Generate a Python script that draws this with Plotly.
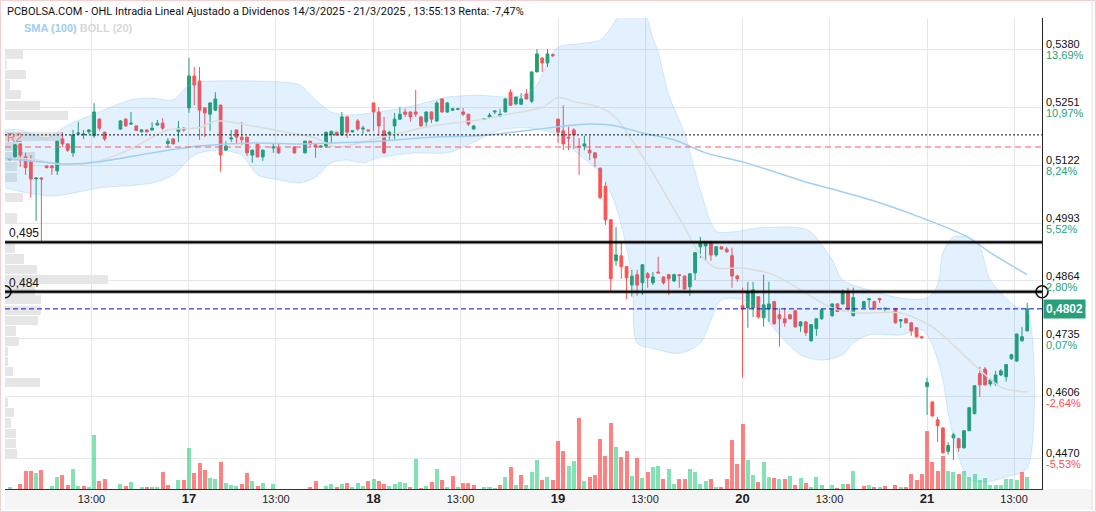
import plotly.graph_objects as go

# ---------------------------------------------------------------- data
TITLE = ("PCBOLSA.COM - OHL Intradia Lineal Ajustado a Dividenos 14/3/2025 - 21/3/2025 , "
         "13:55:13 Renta: -7,47%")
SLOTS_PER_DAY = 35                      # 15-minute bars 09:00 ... 17:30
day_names = ["14", "17", "18", "19", "20", "21"]
noon_text = "13:00"

# bar index k = day * 35 + slot ; None = no trade in that slot
opens = [
    # 14/3
    None, .5134, .5140, .5169, .5140, .5129, .5091, .5093, .5120, .5120,
    .5109, .5180, .5169, .5149, .5191, .5189, .5196, .5187, .5224, .5195,
    None, None, .5202, .5224, .5213, .5209, .5196, .5200, .5200, .5211,
    .5215, .5170, .5180, .5196, .5204,
    # 17/3
    .5249, .5320, .5309, .5249, .5235, .5244, .5255, .5155, .5180, .5200,
    .5184, .5184, .5144, .5169, .5140, None, .5160, .5160, None, None,
    .5162, None, .5149, .5175, .5167, .5162, .5164, .5190, .5195, .5189,
    .5229, .5196, .5220, .5202, .5200,
    # 18/3
    .5260, .5240, .5198, .5191, .5209, .5224, .5240, .5240, .5240, .5229,
    .5218, .5240, .5220, .5269, .5240, .5244, .5246, .5240, .5235, .5202,
    None, .5224, .5229, .5240, .5231, .5240, .5284, .5258, .5257, .5280,
    .5264, .5329, .5360, .5349, .5368,
    # 19/3
    .5224, .5198, .5184, .5200, .5164, .5164, .5155, .5149, .5115, .5075,
    .5000, .4909, .4920, .4896, .4855, .4878, .4860, .4880, .4860, .4884,
    .4873, .4878, .4864, .4878, .4875, .4851, .4882, .4940, .4942, .4951,
    .4922, .4940, .4935, .4920, .4875,
    # 20/3
    .4809, .4804, .4804, .4829, .4782, .4802, .4818, .4789, .4780, .4789,
    .4798, .4764, .4773, .4731, .4758, .4780, None, .4787, .4813, .4813,
    .4838, .4787, None, .4805, .4822, .4818, .4825, .4802, None, .4802,
    .4775, .4780, .4771, .4760, .4740,
    # 21/3
    .4629, .4595, .4555, .4537, .4485, .4515, .4513, .4493, .4531, .4569,
    .4658, .4668, .4635, .4635, .4655, .4651, .4691, .4686, .4731, .4753,
]
highs = [
    None, .5138, .5169, .5171, .5149, .5144, .5095, .5095, .5121, .5121,
    .5175, .5195, .5170, .5200, .5218, .5200, .5202, .5260, .5226, .5196,
    None, None, .5222, .5226, .5240, .5210, .5202, .5201, .5217, .5222,
    .5226, .5182, .5181, .5220, .5206,
    .5360, .5340, .5340, .5251, .5262, .5284, .5257, .5175, .5200, .5201,
    .5218, .5185, .5156, .5170, .5156, None, .5169, .5169, None, None,
    .5164, None, .5176, .5176, .5168, .5165, .5196, .5198, .5196, .5240,
    .5230, .5200, .5224, .5209, .5201,
    .5261, .5251, .5229, .5198, .5238, .5251, .5247, .5241, .5289, .5231,
    .5241, .5241, .5264, .5271, .5262, .5249, .5249, .5249, .5236, .5211,
    None, .5226, .5238, .5243, .5247, .5270, .5291, .5274, .5282, .5291,
    .5330, .5380, .5361, .5380, .5370,
    .5225, .5255, .5207, .5204, .5182, .5187, .5187, .5150, .5116, .5084,
    .5001, .4984, .4949, .4897, .4889, .4889, .4901, .4884, .4884, .4918,
    .4874, .4880, .4880, .4879, .4876, .4881, .4928, .4962, .4952, .4952,
    .4941, .4941, .4940, .4938, .4878,
    .4849, .4862, .4862, .4830, .4878, .4862, .4820, .4804, .4804, .4791,
    .4800, .4775, .4775, .4768, .4781, .4801, None, .4814, .4815, .4845,
    .4849, .4849, None, .4820, .4825, .4820, .4827, .4806, None, .4803,
    .4779, .4781, .4773, .4761, .4742,
    .4649, .4596, .4562, .4538, .4505, .4526, .4515, .4532, .4584, .4632,
    .4673, .4673, .4647, .4664, .4668, .4679, .4702, .4747, .4762, .4815,
]
lows = [
    None, .5132, .5138, .5118, .5100, .5049, .4998, .4953, .5115, .5100,
    .5100, .5162, .5151, .5140, .5189, .5180, .5191, .5182, .5198, .5175,
    None, None, .5200, .5207, .5211, .5198, .5194, .5194, .5198, .5209,
    .5200, .5160, .5168, .5173, .5196,
    .5238, .5255, .5178, .5184, .5198, .5242, .5107, .5153, .5173, .5169,
    .5167, .5142, .5127, .5139, .5131, None, .5149, .5147, None, None,
    .5147, None, .5148, .5162, .5138, .5160, .5160, .5171, .5187, .5187,
    .5182, .5194, .5198, .5191, .5196,
    .5198, .5187, .5147, .5178, .5178, .5222, .5229, .5218, .5229, .5207,
    .5209, .5215, .5218, .5238, .5238, .5242, .5244, .5231, .5209, .5200,
    None, .5222, .5228, .5235, .5229, .5239, .5254, .5255, .5256, .5268,
    .5260, .5328, .5329, .5340, .5362,
    .5171, .5155, .5155, .5158, .5100, .5155, .5133, .5118, .5047, .4989,
    .4840, .4898, .4869, .4824, .4829, .4831, .4833, .4849, .4855, .4881,
    .4856, .4833, .4862, .4849, .4845, .4831, .4866, .4915, .4909, .4909,
    .4918, .4934, .4927, .4849, .4862,
    .4649, .4760, .4784, .4780, .4762, .4773, .4767, .4718, .4762, .4778,
    .4760, .4751, .4742, .4729, .4742, .4778, None, .4784, .4795, .4811,
    .4798, .4785, None, .4803, .4804, .4800, .4815, .4796, None, .4769,
    .4760, .4769, .4742, .4738, .4735,
    .4566, .4562, .4506, .4480, .4478, .4466, .4484, .4491, .4530, .4567,
    .4606, .4631, .4630, .4631, .4653, .4640, .4689, .4684, .4729, .4752,
]
closes = [
    None, .5137, .5167, .5144, .5116, .5091, .5093, .5091, .5116, .5116,
    .5175, .5169, .5155, .5189, .5193, .5191, .5200, .5240, .5204, .5180,
    None, None, .5220, .5209, .5215, .5199, .5200, .5196, .5204, .5215,
    .5204, .5175, .5169, .5204, .5200,
    .5320, .5300, .5244, .5238, .5260, .5269, .5144, .5164, .5182, .5184,
    .5178, .5149, .5155, .5140, .5155, None, .5162, .5149, None, None,
    .5149, None, .5175, .5169, .5162, .5164, .5195, .5197, .5189, .5229,
    .5195, .5198, .5202, .5204, .5198,
    .5240, .5209, .5149, .5195, .5224, .5235, .5235, .5229, .5235, .5209,
    .5240, .5224, .5260, .5240, .5260, .5247, .5247, .5235, .5213, .5209,
    None, .5225, .5233, .5242, .5235, .5269, .5255, .5273, .5269, .5269,
    .5329, .5369, .5349, .5369, .5365,
    .5195, .5169, .5182, .5189, .5162, .5169, .5149, .5138, .5049, .5000,
    .4869, .4922, .4896, .4871, .4875, .4855, .4900, .4871, .4873, .4882,
    .4860, .4869, .4878, .4876, .4846, .4880, .4927, .4949, .4951, .4922,
    .4940, .4935, .4929, .4875, .4869,
    .4802, .4840, .4844, .4784, .4811, .4813, .4769, .4780, .4771, .4780,
    .4762, .4773, .4749, .4767, .4780, .4800, None, .4813, .4796, .4838,
    .4802, .4827, None, .4818, .4824, .4802, .4822, .4803, None, .4771,
    .4778, .4771, .4753, .4740, .4738,
    .4638, .4564, .4542, .4482, .4498, .4522, .4493, .4531, .4582, .4631,
    .4633, .4633, .4644, .4655, .4664, .4678, .4700, .4746, .4740, .4802,
]
volumes = [  # thousands of shares
    None, 2, 0.5, 4.7, 18, 18, 15.7, 19, 0.5, 3,
    12.3, 13.7, 3.7, 19.7, 3, 3, 2, 54, 8, 10,
    None, None, 5.3, 3, 7, 0.5, 2, 2, 2, 2,
    17, 3.7, 0.5, 9, 9,
    40.7, 15.7, 25.7, 19, 10.7, 10, 27, 5.7, 3.7, 3,
    4.7, 15.7, 8, 3, 5.7, None, 4.7, 0.5, None, None,
    0.5, None, 0.5, 2, 8, 0.5, 3, 4.7, 2, 4.7,
    5.7, 2, 5.7, 3, 8,
    10, 8, 4.7, 3, 4.7, 7, 5.7, 2, 30, 0.8,
    3, 7, 19.7, 9, 2, 13, 2, 6.3, 6.3, 3.7,
    None, 2, 2, 0.8, 3.7, 12.3, 21.7, 3.7, 14, 3.7,
    17, 28.7, 9, 11.7, 9,
    48, 38, 23, 28, 70.7, 8, 12.3, 14, 49.7, 33.3,
    65.7, 42.3, 32.3, 38.3, 13.3, 30.7, 11.3, 16.7, 22.3, 23.3,
    9.7, 19.7, 5.3, 9.7, 9.7, 19.7, 17.3, 5.3, 7.7, 9.7,
    2.3, 1.7, 9.7, 49, 24.7,
    64.7, 29, 14, 7.3, 26.7, 11.7, 11.3, 9.7, 9.7, 13.3,
    3.7, 10.7, 5.7, 1.7, 11.7, 3.7, None, 3.7, 0.8, 4.7,
    4.7, 18, None, 3, 3.7, 2, 2.3, 3, None, 3.7,
    2.3, 2, 15.3, 9, 14.7,
    58, 26.7, 18, 33, 18, 16.7, 14.7, 18, 11.7, 14.7,
    9, 10.7, 3.7, 3.7, 3.7, 10.3, 10.3, 9, 16.7, 12.3,
]

# indicators (bar index, price)
sma_k = [0, 5, 12, 18, 28, 37, 47, 56, 62, 71, 81, 90, 100, 105, 111, 116, 121, 127,
         133, 140, 146, 152, 159, 166, 175, 183, 187, 194]
sma_v = [.5137, .5131, .5124, .5129, .5149, .5164, .5171, .5169, .5171, .5175, .5184,
         .5187, .5200, .5207, .5213, .5209, .5193, .5178, .5149, .5129, .5107, .5084,
         .5062, .5038, .5000, .4960, .4927, .4878]
boll_mid_k = [0, 5, 12, 18, 24, 31, 37, 40, 47, 52, 59, 63, 71, 81, 90, 96, 102, 105,
              108, 113, 116, 119, 123, 126, 129, 132, 135, 140, 146, 152, 157, 162,
              170, 176, 183, 189, 194]
boll_mid_v = [.5137, .5135, .5122, .5131, .5158, .5200, .5205, .5220, .5209, .5198,
              .5182, .5162, .5182, .5209, .5222, .5236, .5250, .5272, .5263, .5250,
              .5227, .5178, .5104, .5044, .4984, .4922, .4893, .4893, .4877, .4837,
              .4804, .4793, .4793, .4762, .4688, .4628, .4617]
boll_up_k = [0, 3, 8, 12, 18, 24, 28, 32, 35, 37, 52, 56, 59, 62, 65, 71, 78, 84, 90,
             96, 99, 101, 103, 105, 110, 113, 115, 116, 118, 121, 122, 123, 124, 126,
             129, 132, 135, 138, 143, 151, 153, 157, 159, 164, 170, 175, 177, 178, 180,
             183, 185, 187, 192, 194]
boll_up_v = [.5200, .5200, .5182, .5211, .5240, .5267, .5271, .5267, .5300, .5307,
             .5307, .5300, .5267, .5240, .5233, .5240, .5255, .5273, .5277, .5273,
             .5280, .5300, .5350, .5384, .5393, .5400, .5427, .5445, .5475, .5470,
             .5445, .5404, .5373, .5278, .5193, .5066, .4975, .4973, .4982, .4982,
             .4973, .4911, .4866, .4844, .4826, .4826, .4855, .4927, .4962, .4960,
             .4940, .4866, .4806, .4800]
boll_lo_k = [0, 9, 18, 28, 32, 36, 40, 45, 48, 52, 56, 59, 62, 65, 68, 71, 78, 84, 88,
             94, 100, 106, 108, 113, 116, 119, 120, 123, 128, 132, 136, 140, 143, 147,
             151, 155, 159, 161, 164, 170, 174, 176, 178, 179, 181, 183, 186, 190, 194]
boll_lo_v = [.5071, .5053, .5071, .5082, .5100, .5144, .5155, .5144, .5100, .5089,
             .5082, .5095, .5127, .5133, .5127, .5138, .5149, .5149, .5167, .5200,
             .5204, .5184, .5155, .5104, .5029, .4876, .4726, .4714, .4703, .4726,
             .4822, .4822, .4800, .4744, .4700, .4688, .4700, .4726, .4744, .4744,
             .4755, .4722, .4644, .4571, .4473, .4422, .4417, .4428, .4448]

# volume-at-price profile (price level, volume)
profile_price = [.5369, .5346, .5323, .5300, .5278, .5255, .5232, .5209, .5186, .5164,
                 .5141, .5118, .5095, .5072, .5050, .5027, .5004, .4981, .4958, .4936,
                 .4913, .4890, .4867, .4844, .4822, .4799, .4776, .4753, .4730, .4708,
                 .4685, .4662, .4639, .4616, .4594, .4571, .4548, .4525, .4502, .4480]
profile_vol = [18, 2, 21, 5, 16, 35, 63, 0, 58, 13, 30, 12, 12, 0, 18, 0, 12, 0, 0, 10,
               19, 32, 103, 30, 36, 36, 33, 11, 14, 3, 3, 8, 35, 0, 3, 9, 6, 11, 11, 12]

price_ticks = [0.5380, 0.5251, 0.5122, 0.4993, 0.4864, 0.4735, 0.4606, 0.4470]
pct_ticks = ["13,69%", "10,97%", "8,24%", "5,52%", "2,80%", "0,07%", "-2,64%", "-5,53%"]
last_price = 0.4802
level_r2 = 0.5162
level_pivot = 0.5189
level_hi = 0.495
level_lo = 0.484

# ---------------------------------------------------------------- styling
GREEN = "#22a06f"
RED = "#ff5252"
FONT = "Liberation Sans, Arial, sans-serif"
W, H = 1096, 512
ML, MR, MT, MB = 5, 54, 18, 23
PW, PH = W - ML - MR, H - MT - MB
X_RANGE = [0.1, 196.8]
Y_RANGE = [0.44013, 0.54490]
VOL_RANGE = [0, PH]
PROFILE_RANGE = [0, PW]

fig = go.Figure()

# volume profile (main subplot, lowest layer)
fig.add_trace(go.Bar(
    y=profile_price, x=profile_vol, orientation="h", xaxis="x", yaxis="y",
    width=0.00205, marker=dict(color="#e6e6e6", line=dict(width=0)),
    hoverinfo="skip", showlegend=False))

# Bollinger band
fig.add_trace(go.Scatter(
    x=boll_up_k + boll_lo_k[::-1], y=boll_up_v + boll_lo_v[::-1],
    xaxis="x2", yaxis="y", fill="toself", fillcolor="rgba(33,150,243,0.13)",
    line=dict(color="rgba(120,190,245,0.3)", width=1, shape="spline", smoothing=0.8),
    mode="lines", hoverinfo="skip", showlegend=False))
fig.add_trace(go.Scatter(
    x=boll_mid_k, y=boll_mid_v, xaxis="x2", yaxis="y", mode="lines",
    line=dict(color="#dcdcdc", width=1.5, shape="spline", smoothing=0.8),
    hoverinfo="skip", showlegend=False))
fig.add_trace(go.Scatter(
    x=sma_k, y=sma_v, xaxis="x2", yaxis="y", mode="lines",
    line=dict(color="#9fcff5", width=1.5, shape="spline", smoothing=0.8),
    hoverinfo="skip", showlegend=False))

# candles
valid = [k for k in range(len(closes)) if closes[k] is not None]
fig.add_trace(go.Candlestick(
    x=valid,
    open=[opens[k] for k in valid], high=[highs[k] for k in valid],
    low=[lows[k] for k in valid], close=[closes[k] for k in valid],
    xaxis="x2", yaxis="y",
    increasing=dict(line=dict(color=GREEN, width=1), fillcolor=GREEN),
    decreasing=dict(line=dict(color=RED, width=1), fillcolor=RED),
    whiskerwidth=0, hoverinfo="skip", showlegend=False))

# volume bars, coloured by close vs previous close
vol_x, vol_y, vol_c = [], [], []
prev = None
for k in valid:
    up = prev is None or closes[k] >= prev
    prev = closes[k]
    if volumes[k] is None:
        continue
    vol_x.append(k)
    vol_y.append(volumes[k])
    vol_c.append("rgba(40,205,125,0.58)" if up else "rgba(255,70,70,0.68)")
fig.add_trace(go.Bar(
    x=vol_x, y=vol_y, xaxis="x2", yaxis="y2", width=0.76,
    marker=dict(color=vol_c, line=dict(width=0)), hoverinfo="skip", showlegend=False))

# end markers of the 0,484 line
fig.add_trace(go.Scatter(
    x=[X_RANGE[1]], y=[level_lo], xaxis="x2", yaxis="y", mode="markers",
    marker=dict(symbol="circle-open", size=12, color="#111", line=dict(width=1.6)),
    cliponaxis=False, hoverinfo="skip", showlegend=False))
fig.add_trace(go.Scatter(
    x=[X_RANGE[0]], y=[level_lo], xaxis="x2", yaxis="y", mode="markers",
    marker=dict(symbol="circle-open", size=12, color="#111", line=dict(width=1.6)),
    cliponaxis=True, hoverinfo="skip", showlegend=False))

# ---------------------------------------------------------------- shapes
px_x = lambda p: (p - ML) / PW          # pixel -> paper (x)
px_y = lambda p: (H - MB - p) / PH      # pixel -> paper (y)
shapes = [
    dict(type="rect", xref="paper", yref="paper", x0=0, x1=px_x(1092), y0=px_y(510), y1=0,
         fillcolor="#f5f5f5", line=dict(width=0), layer="below"),
    dict(type="line", xref="paper", yref="paper", x0=px_x(1092), x1=px_x(1092),
         y0=px_y(510), y1=px_y(0), line=dict(color="#e2e2e2", width=1), layer="below"),
    dict(type="rect", xref="paper", yref="paper", x0=px_x(0.5), x1=px_x(1095.5),
         y0=px_y(511.5), y1=px_y(0.5), line=dict(color="#f3cfcf", width=1), layer="below"),
    dict(type="line", xref="paper", yref="y", x0=0, x1=1, y0=level_pivot, y1=level_pivot,
         line=dict(color="#111", width=1, dash="2px,2px")),
    dict(type="line", xref="paper", yref="y", x0=0, x1=1, y0=level_r2, y1=level_r2,
         line=dict(color="#ff5a5a", width=1, dash="6px,4px")),
    dict(type="line", xref="paper", yref="y", x0=0, x1=1, y0=last_price, y1=last_price,
         line=dict(color="#1010c8", width=1, dash="5px,3px")),
]
for lvl in (level_hi, level_lo):
    shapes.append(dict(type="line", xref="paper", yref="y", x0=0, x1=1, y0=lvl, y1=lvl,
                       line=dict(color="rgba(0,0,0,0.35)", width=4)))
    shapes.append(dict(type="line", xref="paper", yref="y", x0=0, x1=1, y0=lvl, y1=lvl,
                       line=dict(color="#000", width=2)))

# ---------------------------------------------------------------- annotations
def fmt(v, nd):
    return f"{v:.{nd}f}".replace(".", ",")

ann = [
    dict(text=TITLE, xref="paper", yref="paper", x=0, y=px_y(11), xanchor="left",
         yanchor="middle", showarrow=False,
         font=dict(family="Roboto, sans-serif", size=11, color="#111")),
    dict(text='<span style="color:#9dcdf2">SMA (100)</span> <span style="color:#d8d8d8">BOLL (20)</span>',
         xref="paper", yref="paper", x=px_x(22), y=px_y(28), xanchor="left", yanchor="middle",
         showarrow=False, font=dict(family=FONT, size=11, weight="bold")),
    dict(text="R2", xref="paper", yref="y", x=0, y=level_r2, xanchor="left", yanchor="bottom",
         showarrow=False, font=dict(family=FONT, size=12, color="#ff7070")),
    dict(text=fmt(level_hi, 3), xref="paper", yref="y", x=px_x(7), y=level_hi, xanchor="left",
         yanchor="bottom", showarrow=False, font=dict(family=FONT, size=12, color="#111")),
    dict(text=fmt(level_lo, 3), xref="paper", yref="y", x=px_x(7), y=level_lo, xanchor="left",
         yanchor="bottom", showarrow=False, font=dict(family=FONT, size=12, color="#111")),
]
for v, pct in zip(price_ticks, pct_ticks):
    ann.append(dict(text=fmt(v, 4), xref="paper", yref="y", x=px_x(1044), y=v, xanchor="left",
                    yanchor="middle", yshift=5, showarrow=False,
                    font=dict(family=FONT, size=11, color="#111")))
    ann.append(dict(text=pct, xref="paper", yref="y", x=px_x(1044), y=v, xanchor="left",
                    yanchor="middle", yshift=-6, showarrow=False,
                    font=dict(family=FONT, size=11,
                              color="#ff4d4d" if pct.startswith("-") else "#26a17b")))
ann.append(dict(text="<b>" + fmt(last_price, 4) + "</b>", xref="paper", yref="y",
                x=px_x(1043), y=last_price, xanchor="left", yanchor="middle", showarrow=False,
                bgcolor="#26a17b", borderpad=2,
                font=dict(family=FONT, size=12, color="#ffffff")))

# ---------------------------------------------------------------- axes
tickvals, ticktext = [], []
for d, name in enumerate(day_names):
    if d > 0:
        tickvals.append(d * SLOTS_PER_DAY)
        ticktext.append(f'<b><span style="font-size:13px">{name}</span></b>')
    tickvals.append(d * SLOTS_PER_DAY + 16.5)
    ticktext.append(noon_text)

fig.update_layout(
    width=W, height=H, margin=dict(l=ML, r=MR, t=MT, b=MB),
    paper_bgcolor="white", plot_bgcolor="white", showlegend=False, hovermode=False,
    bargap=0, boxgap=0.25,
    xaxis=dict(range=PROFILE_RANGE, visible=False, fixedrange=True),
    xaxis2=dict(overlaying="x", anchor="y", side="bottom", range=X_RANGE,
                tickvals=tickvals, ticktext=ticktext, ticks="", showgrid=True,
                gridcolor="#e7e7e7", gridwidth=1, zeroline=False, showline=True,
                linecolor="#333", linewidth=1,
                tickfont=dict(family=FONT, size=11, color="#222"),
                rangeslider=dict(visible=False)),
    yaxis=dict(range=Y_RANGE, side="right", tickvals=price_ticks, showticklabels=False,
               ticks="", showgrid=True, gridcolor="#e7e7e7", zeroline=False,
               showline=True, linecolor="#222", linewidth=1),
    yaxis2=dict(overlaying="y", anchor="x2", range=VOL_RANGE, visible=False),
    shapes=shapes, annotations=ann,
)

fig.write_html("out.html")
